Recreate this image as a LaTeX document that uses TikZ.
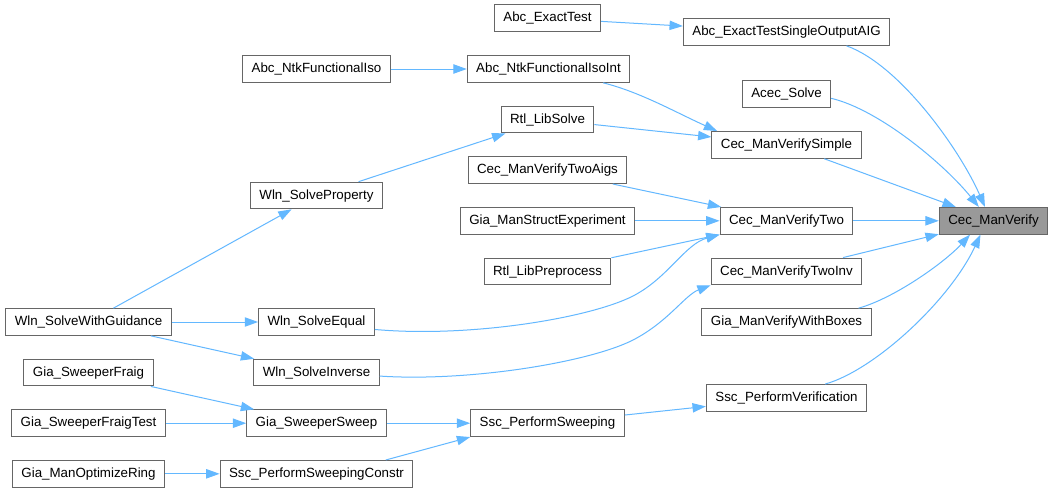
\documentclass[tikz,border=0pt]{standalone}
\usepackage{fontspec}
\setmainfont{Liberation Sans}
\usetikzlibrary{arrows.meta}
\definecolor{edgec}{HTML}{63B8FF}
\definecolor{bordc}{HTML}{666666}
\definecolor{rootc}{HTML}{999999}
\begin{document}
\begin{tikzpicture}[x=0.75pt,y=-0.75pt,
  fn/.style={draw=bordc, line width=0.75pt, fill=white, font=\fontsize{10pt}{12pt}\selectfont,
    inner xsep=6.75pt, inner ysep=0pt, minimum height=20pt, text height=7.5pt, text depth=2pt},
  root/.style={fn, fill=rootc},
  call/.style={draw=edgec, line width=0.75pt, -{Triangle[length=10pt,width=7pt]}}]
\fill[white] (0,0) rectangle (1055,493);
\useasboundingbox (0,0) rectangle (1055,493);
% column 1
\node[root] (CMV) at (993.5,220.8) {Cec\_ManVerify};
% column 2
\node[fn] (EA) at (786.5,32) {Abc\_ExactTestSingleOutputAIG};
\node[fn] (AS) at (786.5,94.3) {Acec\_Solve};
\node[fn] (CMS) at (786.5,144.9) {Cec\_ManVerifySimple};
\node[fn] (CMT) at (786.5,220.8) {Cec\_ManVerifyTwo};
\node[fn] (CTI) at (786.5,271.4) {Cec\_ManVerifyTwoInv};
\node[fn] (GVB) at (786.5,322) {Gia\_ManVerifyWithBoxes};
\node[fn] (SPV) at (786.5,397.9) {Ssc\_PerformVerification};
% column 3
\node[fn] (ET) at (547.5,18.3) {Abc\_ExactTest};
\node[fn] (NII) at (548.5,69) {Abc\_NtkFunctionalIsoInt};
\node[fn] (RLS) at (547.5,119.6) {Rtl\_LibSolve};
\node[fn] (CTA) at (547.5,170.2) {Cec\_ManVerifyTwoAigs};
\node[fn] (GSE) at (547.5,220.8) {Gia\_ManStructExperiment};
\node[fn] (RLP) at (547.5,271.4) {Rtl\_LibPreprocess};
\node[fn] (SPS) at (547.5,423.2) {Ssc\_PerformSweeping};
% column 4
\node[fn] (NI) at (316.5,69) {Abc\_NtkFunctionalIso};
\node[fn] (WSP) at (316.5,195.5) {Wln\_SolveProperty};
\node[fn] (WSE) at (316.5,322) {Wln\_SolveEqual};
\node[fn] (WSI) at (316.5,372.6) {Wln\_SolveInverse};
\node[fn] (GSS) at (316.5,423.2) {Gia\_SweeperSweep};
\node[fn] (SPSC) at (316.5,473.8) {Ssc\_PerformSweepingConstr};
% column 5
\node[fn] (WSG) at (88.5,322) {Wln\_SolveWithGuidance};
\node[fn] (GSF) at (88.5,372.6) {Gia\_SweeperFraig};
\node[fn] (GSFT) at (88.5,423.2) {Gia\_SweeperFraigTest};
\node[fn] (GMOR) at (88.5,473.8) {Gia\_ManOptimizeRing};
% edges
\draw[call] (ET) -- (EA);
\draw[call] ([xshift=45pt]EA.south) .. controls (900,65) and (960,150) .. ([xshift=-6.4pt]CMV.north);
\draw[call] ([yshift=-3pt]AS.east) .. controls (880,110) and (945,165) .. ([xshift=-11pt]CMV.north);
\draw[call] (CMS) -- (CMV);
\draw[call] (CMT) -- (CMV);
\draw[call] (CTI) -- (CMV);
\draw[call] ([xshift=54pt]GVB.north) .. controls (895,298) and (945,262) .. ([xshift=-17.6pt]CMV.south);
\draw[call] ([xshift=29pt]SPV.north) .. controls (875,370) and (950,300) .. ([xshift=-9.75pt]CMV.south);
\draw[call] (NI) -- (NII);
\draw[call] ([xshift=41pt]NII.south) .. controls (640,92) and (675,112) .. ([xshift=-52pt]CMS.north);
\draw[call] (RLS) -- (CMS);
\draw[call] (WSP) -- (RLS);
\draw[call] (CTA) -- (CMT);
\draw[call] (GSE) -- (CMT);
\draw[call] (RLP) -- (CMT.south west);
\draw[call] ([yshift=-5.6pt]WSE.east) .. controls (470,338) and (590,318) .. (633,296) .. controls (668,278) and (685,244) .. (CMT.south west);
\draw[call] ([yshift=-2.6pt]WSI.east) .. controls (470,382) and (590,362) .. (633,340) .. controls (668,322) and (685,295) .. (CTI.south west);
\draw[call] (SPS) -- (SPV);
\draw[call] (GSS) -- (SPS);
\draw[call] ([xshift=52pt]SPSC.north) -- (SPS.south west);
\draw[call] (GSF) -- (GSS);
\draw[call] (GSFT) -- (GSS);
\draw[call] (GMOR) -- (SPSC);
\draw[call] (WSG) -- (WSP);
\draw[call] (WSG) -- (WSE);
\draw[call] (WSG) -- (WSI);
\end{tikzpicture}
\end{document}
